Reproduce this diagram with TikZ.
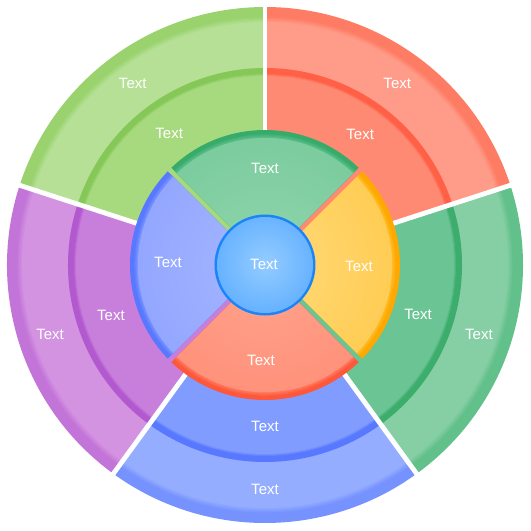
\documentclass[tikz,border=0pt]{standalone}
\usepackage{fontspec}
\setmainfont{Liberation Sans}
% ring colours
\definecolor{gTLd}{HTML}{9AD36E}\definecolor{gTLl}{HTML}{B5E095}
\definecolor{gTLmd}{HTML}{86C858}\definecolor{gTLml}{HTML}{A7DA7F}
\definecolor{rOd}{HTML}{FF7C64}\definecolor{rOl}{HTML}{FF9C89}
\definecolor{rMd}{HTML}{FF6046}\definecolor{rMl}{HTML}{FF8A74}
\definecolor{gROd}{HTML}{62C08B}\definecolor{gROl}{HTML}{86CFA5}
\definecolor{gRMd}{HTML}{3DAD6D}\definecolor{gRMl}{HTML}{6BC494}
\definecolor{bOd}{HTML}{7592FF}\definecolor{bOl}{HTML}{95ADFF}
\definecolor{bMd}{HTML}{5878FF}\definecolor{bMl}{HTML}{809CFF}
\definecolor{pOd}{HTML}{C374D8}\definecolor{pOl}{HTML}{D393E1}
\definecolor{pMd}{HTML}{B259CF}\definecolor{pMl}{HTML}{C87FDB}
% inner colours
\definecolor{igD}{HTML}{36AB6A}\definecolor{igC}{HTML}{92D6AE}\definecolor{igO}{HTML}{64C18E}
\definecolor{iyD}{HTML}{FFA800}\definecolor{iyC}{HTML}{FFDA7A}\definecolor{iyO}{HTML}{FFC030}
\definecolor{irD}{HTML}{FF573A}\definecolor{irC}{HTML}{FFA48E}\definecolor{irO}{HTML}{FF8068}
\definecolor{ibD}{HTML}{5778FF}\definecolor{ibC}{HTML}{A6B6FF}\definecolor{ibO}{HTML}{8098FF}
\definecolor{cD}{HTML}{1A84F8}\definecolor{cC}{HTML}{94CCFF}\definecolor{cO}{HTML}{3898FF}

\tikzset{lbl/.style={text=white, font=\fontsize{15}{18}\selectfont, inner sep=0pt}}

% ring segment path: #1 a1, #2 a2, #3 rin, #4 rout, #5 path options
\newcommand\segpath[5]{%
  \pgfmathsetmacro\rI{#3}\pgfmathsetmacro\rO{#4}%
  \path[#5] (#1:\rI pt) -- (#1:\rO pt) arc[start angle=#1,end angle=#2,radius=\rO pt] -- (#2:\rI pt) arc[start angle=#2,end angle=#1,radius=\rI pt] -- cycle;
}
% stepped segment: #1 a1, #2 a2, #3 rin, #4 rout, #5 dark, #6 light
% uses \flatR \stepR \nS
\newcommand\ringseg[6]{%
  \foreach \k in {0,...,\nS}{%
    \pgfmathsetmacro\rr{#4-(\k>0)*\flatR-\k*\stepR}%
    \pgfmathsetmacro\pc{100-100*\k/\nS}%
    \segpath{#1}{#2}{#3}{\rr}{fill=#5!\pc!#6}%
  }%
}
% inner sector path: #1 a1, #2 a2, #3 radius, #4 path options
\newcommand\innerpath[4]{%
  \pgfmathsetmacro\midA{(#1+#2)/2}\pgfmathsetmacro\rO{#3}%
  \pgfmathsetmacro\oA{#1+asin(2.5/\rO)}\pgfmathsetmacro\oB{#2-asin(2.5/\rO)}%
  \path[#4] (\midA:3.54pt) -- (\oA:\rO pt) arc[start angle=\oA,end angle=\oB,radius=\rO pt] -- cycle;
}
% inner sector: #1 a1, #2 a2, #3 dark, #4 centre, #5 outer
\newcommand\innerseg[5]{%
  \foreach \k in {0,...,4}{%
    \pgfmathsetmacro\rr{135-(\k>0)*3-\k*1.2}%
    \pgfmathsetmacro\pc{100-25*\k}%
    \innerpath{#1}{#2}{\rr}{fill=#3!\pc!#5}%
  }%
  \begin{scope}
    \innerpath{#1}{#2}{127.2}{clip}
    \shade[inner color=#4, outer color=#5] (0,0) circle (254.4pt);
  \end{scope}
}

\begin{document}
\begin{tikzpicture}
\useasboundingbox (-265pt,-266pt) rectangle (266pt,265pt);
% outer ring
\def\flatR{9}\def\stepR{1.5}\def\nS{4}
\ringseg{90}{162}{197}{258}{gTLd}{gTLl}
\ringseg{162}{234}{197}{258}{pOd}{pOl}
\ringseg{234}{306}{197}{258}{bOd}{bOl}
\ringseg{306}{378}{197}{258}{gROd}{gROl}
\ringseg{18}{90}{197}{258}{rOd}{rOl}
% middle ring
\def\flatR{5}\def\stepR{1}\def\nS{3}
\ringseg{90}{162}{40}{197}{gTLmd}{gTLml}
\ringseg{162}{234}{40}{197}{pMd}{pMl}
\ringseg{234}{306}{40}{197}{bMd}{bMl}
\ringseg{306}{378}{40}{197}{gRMd}{gRMl}
\ringseg{18}{90}{40}{197}{rMd}{rMl}
% white gaps
\foreach \a in {90,162,234,306,18}
  \draw[white, line width=4.8pt] (\a:100pt) -- (\a:262pt);
% inner ring
\innerseg{45}{135}{igD}{igC}{igO}
\innerseg{-45}{45}{iyD}{iyC}{iyO}
\innerseg{225}{315}{irD}{irC}{irO}
\innerseg{135}{225}{ibD}{ibC}{ibO}
% centre circle
\fill[cD] (0,0) circle (50.5pt);
\begin{scope}
  \clip (0,0) circle (48pt);
  \shade[inner color=cC, outer color=cO] (0,2pt) circle (100pt);
\end{scope}
% labels
\node[lbl] (tO1) at (126:225pt) {Text};
\node[lbl] (tM1) at (126:163pt) {Text};
\node[lbl] (tO2) at (54:225pt) {Text};
\node[lbl] (tM2) at (54:162pt) {Text};
\node[lbl] (tO3) at (-18:225pt) {Text};
\node[lbl] (tM3) at (-18:161pt) {Text};
\node[lbl] (tO4) at (-90:224pt) {Text};
\node[lbl] (tM4) at (-90:161pt) {Text};
\node[lbl] (tO5) at (198:226pt) {Text};
\node[lbl] (tM5) at (198:162pt) {Text};
\node[lbl] (tI1) at (0pt,97pt) {Text};
\node[lbl] (tI2) at (94pt,-1pt) {Text};
\node[lbl] (tI3) at (-4pt,-95pt) {Text};
\node[lbl] (tI4) at (-97pt,3pt) {Text};
\node[lbl] (tC) at (-1pt,1pt) {Text};
\end{tikzpicture}
\end{document}
